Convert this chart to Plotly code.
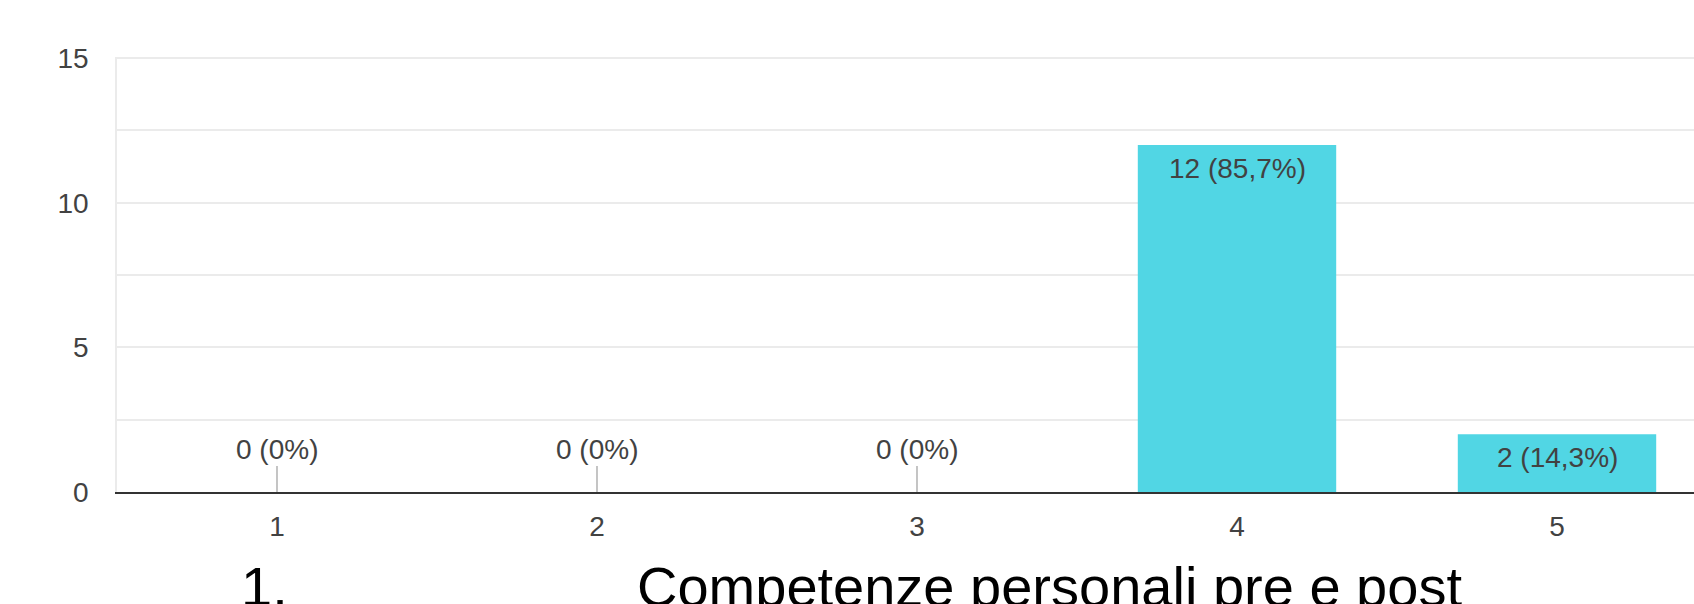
import plotly.graph_objects as go

# Survey answers on a 1-5 scale and how many respondents chose each
categories = [1, 2, 3, 4, 5]
counts = [0, 0, 0, 12, 2]
y_ticks = [0, 5, 10, 15]

total = sum(counts)


def fmt_label(n):
    pct = n / total * 100
    if abs(pct - round(pct)) < 1e-9:
        p = f"{int(round(pct))}"
    else:
        p = f"{pct:.1f}".replace(".", ",")
    return f"{n} ({p}%)"


labels = [fmt_label(n) for n in counts]

BAR_COLOR = "#51d6e4"
TEXT_COLOR = "#424242"
GRID_COLOR = "#ebebeb"
FONT = "Liberation Sans, Arial, sans-serif"

W, H = 1694, 604
M_L, M_T, M_B = 117, 57, 112
plot_w = W - M_L
plot_h = H - M_T - M_B
band_px = 320  # pixel width of one category slot

fig = go.Figure()

fig.add_trace(go.Bar(
    x=categories,
    y=counts,
    width=0.62,
    marker=dict(color=BAR_COLOR, line=dict(width=0)),
    hoverinfo="skip",
))

for c, n, lab in zip(categories, counts, labels):
    if n == 0:
        # Zero-valued answers: label lifted above the axis with a small stem
        fig.add_annotation(
            x=c, y=0, xref="x", yref="y",
            text=lab,
            showarrow=True, arrowhead=0, arrowwidth=1.2, arrowcolor="#9e9e9e",
            ax=0, ay=-43, standoff=0,
            font=dict(family=FONT, size=28, color=TEXT_COLOR),
        )
    else:
        # Value label sitting just inside the top of the bar
        fig.add_annotation(
            x=c, y=n, xref="x", yref="y",
            text=lab, showarrow=False,
            xanchor="center", yanchor="top", yshift=-6,
            font=dict(family=FONT, size=28, color=TEXT_COLOR),
        )


def px_x(px):
    return (px - M_L) / plot_w


def px_y(py):
    return (H - M_B - py) / plot_h


# Caption under the chart
fig.add_annotation(
    x=px_x(239), y=px_y(586), xref="paper", yref="paper",
    xanchor="left", yanchor="middle", showarrow=False,
    text="1.", font=dict(family=FONT, size=56, color="#000000"),
)
fig.add_annotation(
    x=px_x(635), y=px_y(586), xref="paper", yref="paper",
    xanchor="left", yanchor="middle", showarrow=False,
    text="Competenze personali pre e post",
    font=dict(family=FONT, size=56, color="#000000"),
)

fig.update_layout(
    width=W, height=H,
    margin=dict(l=M_L, r=0, t=M_T, b=M_B, pad=0),
    paper_bgcolor="white",
    plot_bgcolor="white",
    showlegend=False,
    font=dict(family=FONT, color=TEXT_COLOR),
)

fig.update_xaxes(
    range=[0.5, 0.5 + plot_w / band_px],
    tickmode="array", tickvals=categories, ticktext=[str(c) for c in categories],
    ticks="", showgrid=False, zeroline=False,
    showline=True, linecolor="#333333", linewidth=2,
    tickfont=dict(family=FONT, size=28, color=TEXT_COLOR),
    ticklabelstandoff=8,
)

fig.update_yaxes(
    range=[0, 15.04],
    tickmode="array", tickvals=y_ticks,
    ticks="", showgrid=True, gridcolor=GRID_COLOR, gridwidth=1.5,
    minor=dict(dtick=2.5, showgrid=True, gridcolor=GRID_COLOR, gridwidth=1.5),
    zeroline=False,
    showline=True, linecolor=GRID_COLOR, linewidth=1.5,
    tickfont=dict(family=FONT, size=28, color=TEXT_COLOR),
    ticklabelstandoff=21,
)

fig.write_html("out.html")
